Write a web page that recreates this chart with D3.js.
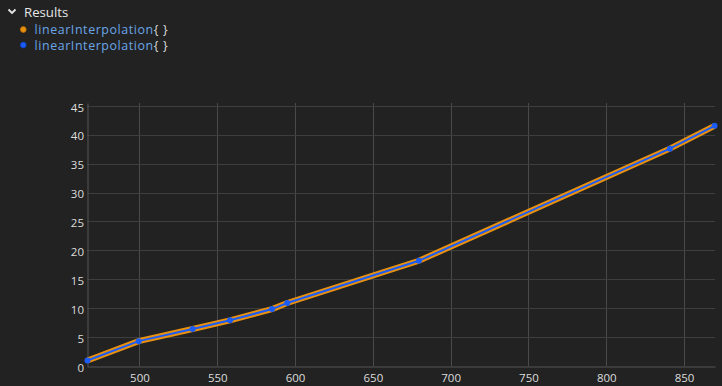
<!DOCTYPE html>
<html><head><meta charset="utf-8">
<script src="https://cdn.jsdelivr.net/npm/d3@7"></script>
<style>
html,body{margin:0;padding:0;background:#222222;}
svg{display:block;font-family:"Open Sans",sans-serif;}
</style></head>
<body>
<svg id="c" width="722" height="386"></svg>
<script>
const seriesNames = ["linearInterpolation", "linearInterpolation"];
const seriesColors = ["#e8900f", "#1b5cf5"];
const xValues = [466.6, 499.5, 534.2, 558.2, 585.2, 595.0, 679.6, 840.9, 869.6];
const orangeValues = [0.95, 4.3, 6.4, 7.9, 9.85, 10.9, 18.2, 37.6, 41.55];
const blueValues = [0.95, 4.3, 6.4, 7.9, 9.85, 10.9, 18.2, 37.6, 41.55];
const xTicks = [500, 550, 600, 650, 700, 750, 800, 850];
const yTicks = [0, 5, 10, 15, 20, 25, 30, 35, 40, 45];

const svg = d3.select("#c");
const m = {l: 87, r: 715, t: 103, b: 366};
const x = d3.scaleLinear().domain([466.3, 869.9]).range([m.l, m.r]);
const y = d3.scaleLinear().domain([0, 45.5]).range([m.b, m.t]);

// legend header
svg.append("path").attr("d", "M8.5,9.5 L12,13 L15.5,9.5").attr("fill", "none")
  .attr("stroke", "#e6e6e6").attr("stroke-width", 1.8);
svg.append("text").attr("x", 24).attr("y", 16.5).attr("fill", "#e6e6e6")
  .attr("font-size", 13.2).text("Results");
seriesNames.forEach((n, i) => {
  const cy = 29.5 + i * 15.5;
  svg.append("circle").attr("cx", 23.3).attr("cy", cy).attr("r", 2.9)
    .attr("fill", seriesColors[i]).attr("stroke", i === 0 ? "#b56a00" : "#0a3fc0").attr("stroke-width", 0.8);
  const t = svg.append("text").attr("x", 34.5).attr("y", cy + 4.5)
    .attr("font-size", 12.4).attr("letter-spacing", 0.6);
  t.append("tspan").attr("fill", "#6aa6e8").text(n);
  t.append("tspan").attr("fill", "#dcdcdc").text("{ }");
});

// grid
const g = svg.append("g");
g.selectAll("line.vx").data(xTicks).join("line")
  .attr("x1", d => Math.round(x(d)) + 0.5).attr("x2", d => Math.round(x(d)) + 0.5)
  .attr("y1", m.t).attr("y2", m.b).attr("stroke", "#4a4a4a").attr("stroke-width", 1);
g.selectAll("line.hy").data(yTicks.filter(d => d > 0)).join("line")
  .attr("x1", m.l).attr("x2", m.r)
  .attr("y1", d => Math.round(y(d)) + 0.5).attr("y2", d => Math.round(y(d)) + 0.5)
  .attr("stroke", "#3e3e3e").attr("stroke-width", 1);

// axes
const xAxis = d3.axisBottom(x).tickValues(xTicks).tickSize(0).tickPadding(7);
const yAxis = d3.axisLeft(y).tickValues(yTicks).tickSize(0).tickPadding(3.5);
const gx = svg.append("g").attr("transform", `translate(0,${m.b + 0.5})`).call(xAxis);
const gy = svg.append("g").attr("transform", `translate(${m.l + 0.5},0)`).call(yAxis);
[gx, gy].forEach(a => {
  a.select(".domain").attr("stroke", "#555555");
  a.selectAll("text").attr("fill", "#dddddd").attr("font-size", 11.5)
    .attr("font-family", "'Open Sans',sans-serif");
});
gy.selectAll("text").attr("dy", "0.45em");

// lines
const line = d3.line().x((d, i) => x(xValues[i])).y(d => y(d));
svg.append("path").datum(orangeValues).attr("d", line).attr("fill", "none")
  .attr("stroke", seriesColors[0]).attr("stroke-width", 6);
svg.append("path").datum(blueValues).attr("d", line).attr("fill", "none")
  .attr("stroke", seriesColors[1]).attr("stroke-width", 2);
svg.selectAll("circle.pt").data(blueValues).join("circle").attr("class", "pt")
  .attr("cx", (d, i) => x(xValues[i])).attr("cy", d => y(d)).attr("r", 3)
  .attr("fill", seriesColors[1]);
</script>
</body></html>
